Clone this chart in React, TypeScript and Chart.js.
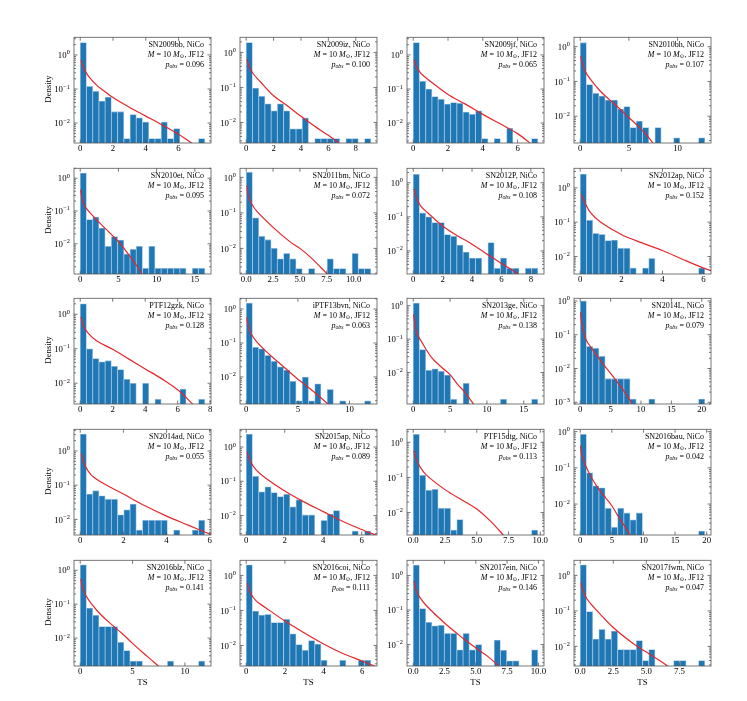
import { useEffect, useRef } from 'react';
import { Chart, registerables } from 'chart.js';

Chart.register(...registerables);

// ═══════════════════════════════════════════════════════════════
// TS null distributions (NiCo, M = 10 Msun, JF12) - 5 x 4 panels
// ═══════════════════════════════════════════════════════════════

const FONT = '"Liberation Serif", "DejaVu Serif", "Times New Roman", serif';

const names = [
  'SN2009bb', 'SN2009iz', 'SN2009jf', 'SN2010bh',
  'SN2010et', 'SN2011bm', 'SN2012P', 'SN2012ap',
  'PTF12gzk', 'iPTF13bvn', 'SN2013ge', 'SN2014L',
  'SN2014ad', 'SN2015ap', 'PTF15dtg', 'SN2016bau',
  'SN2016blz', 'SN2016coi', 'SN2017ein', 'SN2017fwm',
];
const pObs = [
  '0.096', '0.100', '0.065', '0.107',
  '0.095', '0.072', '0.108', '0.152',
  '0.128', '0.063', '0.138', '0.079',
  '0.055', '0.089', '0.113', '0.042',
  '0.141', '0.111', '0.146', '0.047',
];
// upper edge of the histogram (20 equal bins starting at TS = 0)
const binTop = [
  7.6, 9.1, 7.16, 12.8,
  16.3, 11.6, 8.47, 6.06,
  7.67, 12.05, 16.9, 20.5,
  5.77, 6.47, 9.8, 19.7,
  11.9, 6.44, 9.95, 9.42,
];
const xStep = [2, 2, 2, 5, 5, 2.5, 2, 2, 2, 5, 5, 5, 2, 2, 2.5, 5, 5, 2, 2.5, 2.5];
const xDecimals = [0, 0, 0, 0, 0, 1, 0, 0, 0, 0, 0, 0, 0, 0, 1, 0, 0, 0, 1, 1];
const yMin = [
  0.0026, 0.0026, 0.0026, 0.0017,
  0.0012, 0.0019, 0.0021, 0.0031,
  0.0025, 0.0016, 0.00115, 0.00089,
  0.0035, 0.0027, 0.0023, 0.0014,
  0.0015, 0.0026, 0.0024, 0.0028,
];
const yMax = [
  3.3, 2.7, 3.3, 1.86,
  2.0, 1.8, 2.66, 3.7,
  2.9, 2.07, 1.66, 1.2,
  4.3, 3.3, 2.35, 1.16,
  1.97, 2.7, 2.75, 2.67,
];

// histogram densities (0 = empty bin)
const sn2009bb = [2.3, 0.119, 0.086, 0.044, 0.058, 0.0216, 0.0216, 0.0035, 0.0178, 0.0142, 0.0107, 0.0035, 0.0035, 0.0107, 0.0035, 0.0069, 0, 0, 0, 0.0035];
const sn2009iz = [1.9, 0.096, 0.056, 0.034, 0.0216, 0.034, 0.0216, 0.0066, 0.0066, 0.0135, 0, 0.0035, 0.0035, 0.0035, 0.0035, 0, 0.0035, 0.0035, 0, 0.0035];
const sn2009jf = [2.3, 0.17, 0.1, 0.06, 0.05, 0.036, 0.04, 0.038, 0.021, 0.018, 0.023, 0.0035, 0, 0.0035, 0, 0.007, 0, 0, 0, 0.0035];
const sn2010bh = [1.3, 0.081, 0.046, 0.038, 0.029, 0.029, 0.016, 0.019, 0.0047, 0.0073, 0.0047, 0, 0.0047, 0, 0, 0.0024, 0, 0, 0, 0.0024];
const sn2010et = [1.44, 0.055, 0.065, 0.03, 0.0084, 0.0167, 0.013, 0.0049, 0.0068, 0.0084, 0.0018, 0.0084, 0.0018, 0.0018, 0.0018, 0.0018, 0.0018, 0, 0.0018, 0.0018];
const sn2011bm = [1.4, 0.073, 0.022, 0.0176, 0.01, 0.0051, 0.0072, 0.0051, 0.0027, 0, 0.0027, 0, 0, 0.0051, 0.0027, 0.0027, 0, 0.0072, 0.0027, 0.0027];
const sn2012P = [1.76, 0.13, 0.1, 0.068, 0.068, 0.03, 0.027, 0.0148, 0.0092, 0.0062, 0.0062, 0, 0.0176, 0.0031, 0.0062, 0.0031, 0.0031, 0, 0.0031, 0.0031];
const sn2012ap = [2.5, 0.114, 0.047, 0.044, 0.029, 0.03, 0.0175, 0.0175, 0.0046, 0, 0.0046, 0.0088, 0, 0, 0, 0, 0, 0, 0, 0.0046];
const ptf12gzk = [2.0, 0.1, 0.052, 0.042, 0.045, 0.031, 0.025, 0.013, 0.01, 0, 0.01, 0, 0.0034, 0, 0, 0, 0.0068, 0, 0, 0.0034];
const iptf13bvn = [1.5, 0.075, 0.067, 0.043, 0.029, 0.02, 0.016, 0.0075, 0.002, 0.01, 0.002, 0.0063, 0, 0.0043, 0, 0.002, 0, 0, 0, 0.002];
const sn2013ge = [1.2, 0.049, 0.0117, 0.013, 0.011, 0.0084, 0.0016, 0, 0.0048, 0, 0, 0, 0, 0, 0.0016, 0, 0, 0, 0, 0.0016];
const sn2014L = [1.0, 0.045, 0.04, 0.023, 0.005, 0.005, 0.005, 0.005, 0.00125, 0, 0, 0.00125, 0, 0, 0, 0, 0, 0, 0, 0.00125];
const sn2014ad = [3.1, 0.055, 0.069, 0.049, 0.039, 0.039, 0.0136, 0.019, 0.028, 0.0049, 0.0094, 0.0094, 0.0094, 0.0094, 0, 0.0049, 0, 0, 0.0049, 0.0094];
const sn2015ap = [2.4, 0.139, 0.049, 0.069, 0.047, 0.036, 0.042, 0.018, 0.029, 0.0104, 0.0104, 0, 0.0072, 0.011, 0.014, 0, 0, 0.0035, 0, 0.0035];
const ptf15dtg = [1.7, 0.116, 0.043, 0.046, 0.0132, 0.0132, 0.0032, 0.0063, 0, 0, 0, 0, 0, 0, 0, 0, 0, 0, 0, 0.0032];
const sn2016bau = [0.85, 0.073, 0.032, 0.028, 0.0076, 0.0023, 0.0076, 0.0057, 0.0037, 0.0057, 0, 0, 0, 0, 0, 0, 0, 0, 0, 0.0018];
const sn2016blz = [1.45, 0.077, 0.047, 0.022, 0.022, 0.022, 0.0075, 0.0043, 0.0021, 0.0021, 0, 0, 0, 0, 0.0021, 0, 0, 0, 0, 0.0021];
const sn2016coi = [2.0, 0.096, 0.074, 0.077, 0.045, 0.045, 0.056, 0.0215, 0.0106, 0.0073, 0.0138, 0.011, 0.0038, 0, 0, 0.0038, 0, 0, 0.0038, 0.0038];
const sn2017ein = [2.0, 0.11, 0.044, 0.035, 0.036, 0.021, 0.021, 0.0071, 0.021, 0.0071, 0.01, 0, 0, 0.0135, 0.0068, 0.0034, 0.0034, 0, 0, 0.0071];
const sn2017fwm = [2.0, 0.096, 0.016, 0.03, 0.016, 0.027, 0.0081, 0.0081, 0.0081, 0.0146, 0.004, 0.0081, 0, 0, 0, 0.004, 0.004, 0, 0, 0.004];

// expected (model) density, [TS, density]
const sn2009bbModel = [[0.05, 0.72], [0.15, 0.5], [0.3, 0.34], [0.5, 0.24], [1, 0.13], [1.5, 0.085], [2, 0.056], [3, 0.029], [4, 0.016], [5, 0.0088], [6, 0.0047], [7, 0.0022]];
const sn2009izModel = [[0.05, 0.63], [0.2, 0.4], [0.5, 0.25], [1, 0.15], [2, 0.058], [3, 0.03], [4, 0.015], [5, 0.0078], [6, 0.0043], [7, 0.0022]];
const sn2009jfModel = [[0.05, 0.72], [0.15, 0.5], [0.35, 0.33], [0.6, 0.24], [1, 0.166], [2, 0.069], [3, 0.036], [4, 0.018], [5, 0.0095], [6, 0.0049], [6.8, 0.0024]];
const sn2010bhModel = [[0.05, 0.53], [0.2, 0.35], [0.5, 0.2], [1, 0.12], [2, 0.055], [3, 0.03], [4, 0.017], [5, 0.0092], [6, 0.005], [7, 0.0025], [7.6, 0.0015]];
const sn2010etModel = [[0.05, 0.45], [0.3, 0.2], [0.8, 0.12], [2, 0.058], [3, 0.034], [4, 0.02], [5, 0.0116], [6, 0.006], [7, 0.0029], [8, 0.0013], [8.3, 0.001]];
const sn2011bmModel = [[0.05, 0.59], [0.2, 0.3], [0.5, 0.18], [1, 0.11], [2.5, 0.039], [4, 0.016], [5, 0.01], [6, 0.0056], [7, 0.0028], [7.7, 0.0017]];
const sn2012PModel = [[0.05, 0.66], [0.2, 0.38], [0.5, 0.21], [1, 0.13], [2, 0.054], [3, 0.028], [4, 0.0158], [5, 0.0081], [6, 0.0043], [7, 0.0023], [7.3, 0.0018]];
const sn2012apModel = [[0.05, 0.65], [0.2, 0.4], [0.5, 0.19], [1, 0.1], [2, 0.044], [3, 0.025], [4, 0.015], [5, 0.0082], [6, 0.0046], [6.4, 0.0038]];
const ptf12gzkModel = [[0.05, 0.82], [0.2, 0.45], [0.5, 0.28], [1, 0.17], [2, 0.096], [3, 0.05], [4, 0.026], [5, 0.0136], [6, 0.0065], [7, 0.0023]];
const iptf13bvnModel = [[0.05, 0.56], [0.2, 0.32], [0.5, 0.18], [1, 0.11], [2, 0.054], [3, 0.029], [4, 0.0157], [5, 0.0086], [6, 0.005], [7, 0.0028], [8, 0.0015]];
const sn2013geModel = [[0.05, 0.56], [0.2, 0.3], [0.5, 0.15], [1, 0.093], [2.5, 0.028], [4, 0.0135], [5, 0.0087], [6, 0.0045], [7, 0.0026], [8, 0.0013], [8.4, 0.001]];
const sn2014LModel = [[0.05, 0.46], [0.2, 0.25], [0.5, 0.14], [1, 0.069], [2, 0.037], [3, 0.021], [4, 0.012], [5, 0.0072], [6, 0.0042], [7, 0.0024], [8, 0.0013], [8.7, 0.0008]];
const sn2014adModel = [[0.05, 0.84], [0.2, 0.4], [0.5, 0.2], [1, 0.12], [2, 0.055], [3, 0.025], [4, 0.0125], [5, 0.0068], [5.8, 0.0042], [6.1, 0.0035]];
const sn2015apModel = [[0.05, 0.72], [0.2, 0.4], [0.5, 0.22], [1, 0.125], [2, 0.052], [3, 0.025], [4, 0.013], [5, 0.0068], [6, 0.0039], [6.5, 0.003], [6.8, 0.0026]];
const ptf15dtgModel = [[0.05, 0.59], [0.2, 0.35], [0.5, 0.21], [1, 0.12], [2.5, 0.045], [4, 0.021], [5, 0.0126], [6, 0.0061], [7, 0.0025], [7.2, 0.002]];
const sn2016bauModel = [[0.05, 0.41], [0.2, 0.25], [0.5, 0.17], [1, 0.1], [2, 0.046], [3, 0.025], [4, 0.015], [5, 0.009], [6, 0.0046], [7, 0.0025], [8, 0.0013]];
const sn2016blzModel = [[0.05, 0.56], [0.2, 0.33], [0.5, 0.19], [1, 0.11], [2, 0.048], [3, 0.025], [4, 0.0136], [5, 0.007], [6, 0.0037], [7, 0.002], [7.7, 0.0013]];
const sn2016coiModel = [[0.05, 0.6], [0.2, 0.33], [0.5, 0.19], [1, 0.12], [2, 0.05], [3, 0.023], [4, 0.011], [5, 0.0059], [6, 0.0036], [6.4, 0.0029], [6.8, 0.0024]];
const sn2017einModel = [[0.05, 0.69], [0.2, 0.4], [0.5, 0.24], [1, 0.14], [2.5, 0.042], [4, 0.015], [5, 0.008], [6, 0.0044], [7, 0.0021]];
const sn2017fwmModel = [[0.05, 0.63], [0.2, 0.38], [0.5, 0.22], [1, 0.13], [2.5, 0.034], [4, 0.012], [5, 0.0069], [6, 0.004], [6.6, 0.0028], [7, 0.0022]];

const densities = [
  sn2009bb, sn2009iz, sn2009jf, sn2010bh,
  sn2010et, sn2011bm, sn2012P, sn2012ap,
  ptf12gzk, iptf13bvn, sn2013ge, sn2014L,
  sn2014ad, sn2015ap, ptf15dtg, sn2016bau,
  sn2016blz, sn2016coi, sn2017ein, sn2017fwm,
];
const models = [
  sn2009bbModel, sn2009izModel, sn2009jfModel, sn2010bhModel,
  sn2010etModel, sn2011bmModel, sn2012PModel, sn2012apModel,
  ptf12gzkModel, iptf13bvnModel, sn2013geModel, sn2014LModel,
  sn2014adModel, sn2015apModel, ptf15dtgModel, sn2016bauModel,
  sn2016blzModel, sn2016coiModel, sn2017einModel, sn2017fwmModel,
];

// ── layout (page pixels) ──
const COL_LEFT = [74, 240, 407, 574];
const ROW_TOP = [34, 165, 295, 426, 557];
const PW = 137;
const PH = 109;
const YW = 40; // room for y tick labels inside the canvas
const PT = 6;
const PR = 12;
const XH = 14;

const isPow10 = (v: number) => {
  const e = Math.log10(v);
  return Math.abs(e - Math.round(e)) < 1e-6;
};

// matplotlib-style frame, inward ticks on all four sides, 10^n labels
const frameTicks = {
  id: 'frameTicks',
  afterDatasetsDraw(chart: any) {
    const { ctx, chartArea: a, scales } = chart;
    const xs = scales.x;
    const ys = scales.y;
    ctx.save();
    ctx.strokeStyle = '#555';
    ctx.lineWidth = 0.8;
    ctx.beginPath();
    xs.ticks.forEach((t: any) => {
      const px = xs.getPixelForValue(t.value);
      ctx.moveTo(px, a.bottom);
      ctx.lineTo(px, a.bottom - 3.5);
      ctx.moveTo(px, a.top);
      ctx.lineTo(px, a.top + 3.5);
    });
    const lo = Math.floor(Math.log10(ys.min));
    const hi = Math.ceil(Math.log10(ys.max));
    const labels: [number, number][] = [];
    for (let e = lo; e <= hi; e++) {
      for (let m = 1; m <= 9; m++) {
        const v = m * Math.pow(10, e);
        if (v < ys.min || v > ys.max) continue;
        const len = m === 1 ? 3.5 : 2;
        const py = ys.getPixelForValue(v);
        ctx.moveTo(a.left, py);
        ctx.lineTo(a.left + len, py);
        ctx.moveTo(a.right, py);
        ctx.lineTo(a.right - len, py);
        if (m === 1) labels.push([e, py]);
      }
    }
    ctx.stroke();
    ctx.strokeRect(a.left, a.top, a.right - a.left, a.bottom - a.top);

    // y labels: "10" with a raised exponent
    ctx.fillStyle = '#000';
    ctx.textBaseline = 'alphabetic';
    labels.forEach(([e, py]) => {
      const exp = e < 0 ? '\u2212' + String(-e) : String(e);
      ctx.font = `6.3px ${FONT}`;
      const ew = ctx.measureText(exp).width;
      const right = a.left - 4;
      ctx.textAlign = 'right';
      ctx.fillText(exp, right, py - 0.5);
      ctx.font = `8.8px ${FONT}`;
      ctx.fillText('10', right - ew - 0.3, py + 3.2);
    });
    ctx.restore();
  },
};

function Panel({ idx }: { idx: number }) {
  const chartRef = useRef<HTMLCanvasElement>(null);
  const chartInstance = useRef<Chart | null>(null);
  const W = YW + PW + PR;
  const H = PT + PH + XH;

  useEffect(() => {
    if (!chartRef.current) return;
    if (chartInstance.current) chartInstance.current.destroy();

    const top = binTop[idx];
    const bw = top / 20;
    const bars = densities[idx].map((v, i) => ({ x: (i + 0.5) * bw, y: v > 0 ? v : null }));
    const curve = models[idx].map(([x, y]) => ({ x, y }));

    chartInstance.current = new Chart(chartRef.current, {
      type: 'bar',
      data: {
        datasets: [
          {
            type: 'bar',
            data: bars as any,
            backgroundColor: '#1f77b4',
            borderColor: '#9cc2e5',
            borderWidth: 0.8,
            barPercentage: 1,
            categoryPercentage: 1,
            grouped: false,
            order: 2,
          },
          {
            type: 'line',
            data: curve as any,
            borderColor: '#e5262b',
            borderWidth: 1.2,
            pointRadius: 0,
            tension: 0.35,
            fill: false,
            order: 1,
          } as any,
        ],
      },
      options: {
        responsive: false,
        animation: false,
        events: [],
        layout: { padding: { top: PT, right: PR, left: 0, bottom: 0 } },
        scales: {
          x: {
            type: 'linear',
            offset: false,
            min: -0.05 * top,
            max: 1.05 * top,
            grid: { display: false, drawTicks: false },
            border: { display: false },
            afterFit: (s: any) => { s.height = XH; },
            ticks: {
              stepSize: xStep[idx],
              includeBounds: false,
              autoSkip: false,
              maxRotation: 0,
              padding: 0,
              color: '#000',
              font: { family: FONT, size: 8.8 },
              callback: (v: any) => Number(v).toFixed(xDecimals[idx]),
            },
          },
          y: {
            type: 'logarithmic',
            min: yMin[idx],
            max: yMax[idx],
            grid: { display: false, drawTicks: false },
            border: { display: false },
            afterFit: (s: any) => { s.width = YW; },
            ticks: {
              autoSkip: false,
              padding: 4,
              font: { family: FONT, size: 8.8 },
              // decade labels are drawn by the frameTicks plugin
              callback: (v: any) => (isPow10(Number(v)) ? ' ' : ''),
            },
          },
        },
        plugins: {
          legend: { display: false },
          tooltip: { enabled: false },
        },
      },
      plugins: [frameTicks],
    });

    return () => { chartInstance.current?.destroy(); };
  }, [idx]);

  const col = idx % 4;
  const row = Math.floor(idx / 4);
  return (
    <canvas
      ref={chartRef}
      width={W}
      height={H}
      style={{ position: 'absolute', left: COL_LEFT[col] - YW, top: ROW_TOP[row] - PT, width: W, height: H }}
    />
  );
}

function Note({ idx }: { idx: number }) {
  const col = idx % 4;
  const row = Math.floor(idx / 4);
  const sub = { fontSize: '0.72em', position: 'relative' as const, top: '0.28em' };
  return (
    <div
      style={{
        position: 'absolute', left: COL_LEFT[col], top: ROW_TOP[row] + 6.4, width: PW - 7,
        textAlign: 'right', fontFamily: FONT, fontSize: 8, lineHeight: '9.2px', color: '#000', whiteSpace: 'nowrap',
      }}
    >
      <div>{names[idx]}, NiCo</div>
      <div><i>M</i> = 10 <i>M</i><span style={sub}>⊙</span>, JF12</div>
      <div><i>p</i><span style={{ ...sub, fontStyle: 'italic' }}>obs</span> = {pObs[idx]}</div>
    </div>
  );
}

export default function App() {
  const idxs = names.map((_, i) => i);
  return (
    <div style={{ position: 'absolute', left: 0, top: 0, width: 747, height: 701, background: '#fff', overflow: 'hidden' }}>
      {idxs.map((i) => <Panel key={`p${i}`} idx={i} />)}
      {idxs.map((i) => <Note key={`n${i}`} idx={i} />)}
      {ROW_TOP.map((t, r) => (
        <div
          key={`d${r}`}
          style={{
            position: 'absolute', left: 48, top: t + PH / 2, transform: 'translate(-50%, -50%) rotate(-90deg)',
            fontFamily: FONT, fontSize: 8.8, color: '#000', whiteSpace: 'nowrap',
          }}
        >
          Density
        </div>
      ))}
      {COL_LEFT.map((l, c) => (
        <div
          key={`t${c}`}
          style={{
            position: 'absolute', left: l + PW / 2, top: 682, transform: 'translate(-50%, -50%)',
            fontFamily: FONT, fontSize: 8.8, color: '#000',
          }}
        >
          TS
        </div>
      ))}
    </div>
  );
}
